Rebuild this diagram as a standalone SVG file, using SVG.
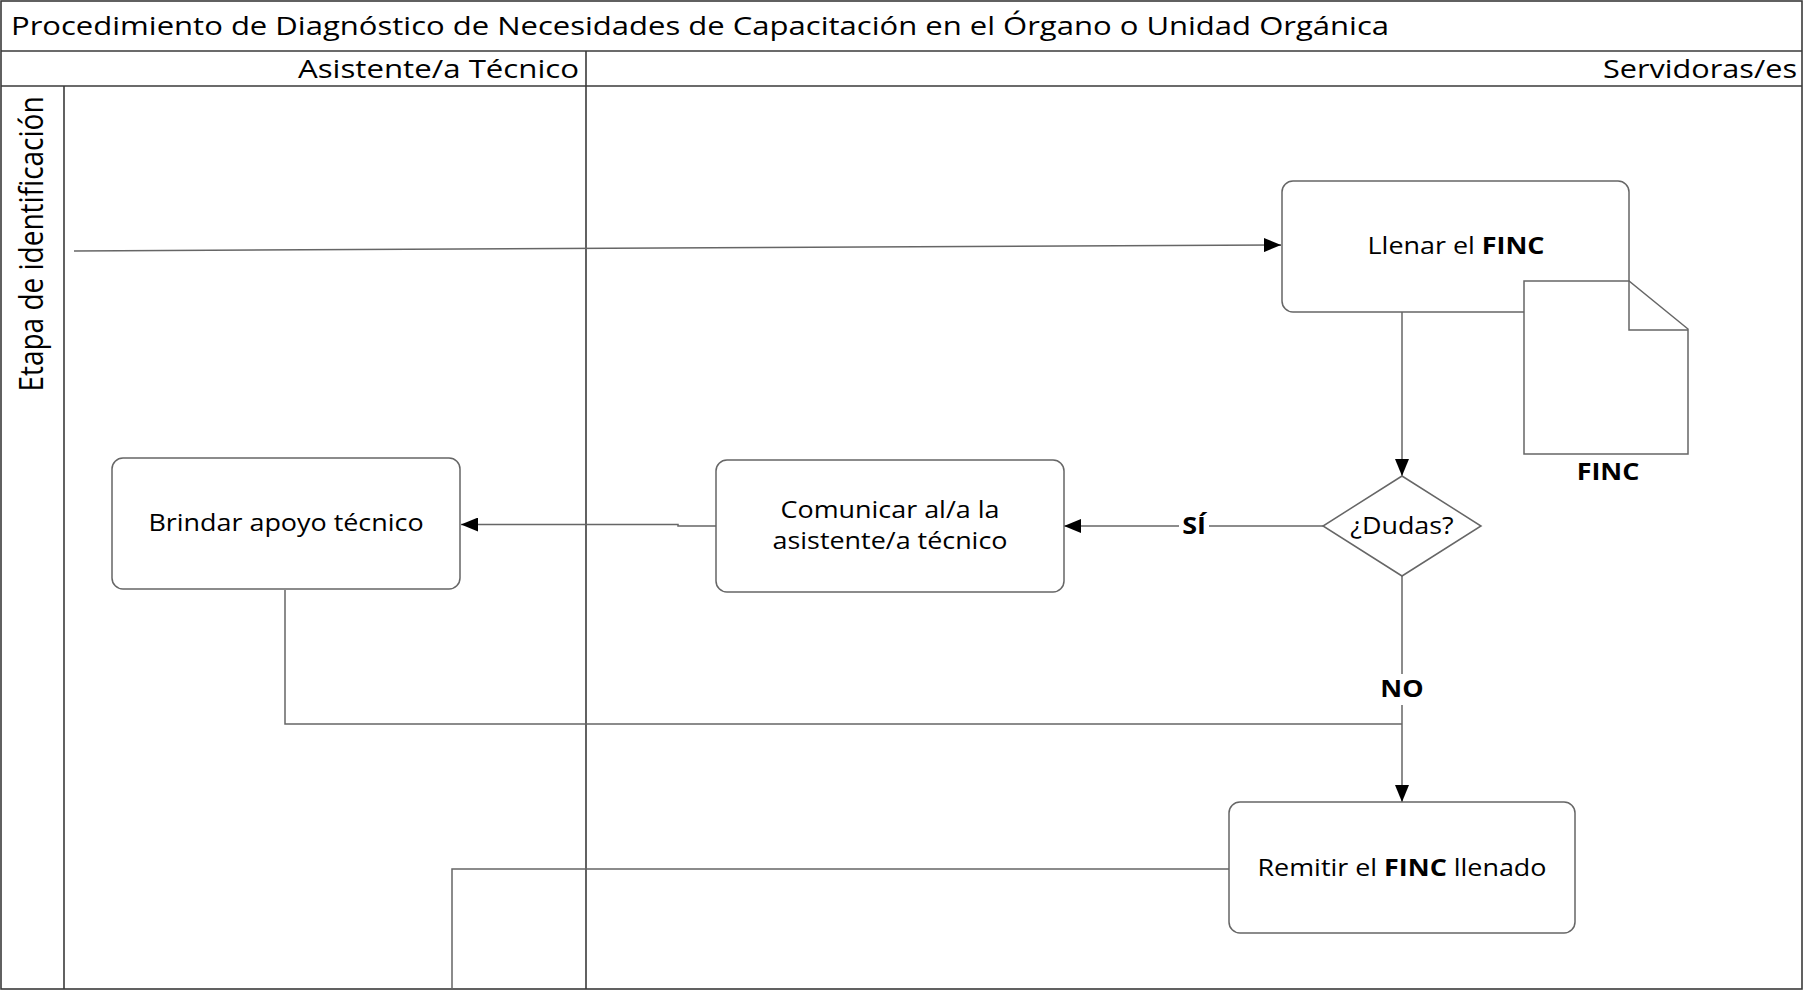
<svg xmlns="http://www.w3.org/2000/svg" width="1804" height="990" viewBox="0 0 1804 990">
  <style>
    .t{font-family:"Open Sans","Liberation Sans",sans-serif;fill:#000}
    .frame{fill:none;stroke:#3a3a3a;stroke-width:1.6}
    .shape{fill:#fff;stroke:#666;stroke-width:1.5}
    .conn{fill:none;stroke:#666;stroke-width:1.5}
    .lbl{fill:#fff;stroke:none}
  </style>
  <defs>
    <marker id="arrow" markerUnits="userSpaceOnUse" markerWidth="17" markerHeight="14" refX="17" refY="7" orient="auto">
      <path d="M0,0 L17,7 L0,14 Z" fill="#000"/>
    </marker>
  </defs>

  <!-- pool frame, title band and lane headers -->
  <g id="pool">
    <rect x="1" y="1" width="1801" height="988" fill="#fff" class="frame"/>
    <line x1="1" y1="51" x2="1802" y2="51" class="frame"/>
    <line x1="1" y1="86" x2="1802" y2="86" class="frame"/>
    <line x1="586" y1="51" x2="586" y2="989" class="frame"/>
    <line x1="64" y1="86" x2="64" y2="989" class="frame"/>
    <text class="t" x="11" y="35" font-size="25" textLength="1378" lengthAdjust="spacingAndGlyphs">Procedimiento de Diagnóstico de Necesidades de Capacitación en el Órgano o Unidad Orgánica</text>
    <text class="t" x="298" y="78" font-size="25" textLength="281" lengthAdjust="spacingAndGlyphs">Asistente/a Técnico</text>
    <text class="t" x="1603" y="78" font-size="25" textLength="194" lengthAdjust="spacingAndGlyphs">Servidoras/es</text>
    <text class="t" font-size="28" text-anchor="middle" transform="translate(43,244) rotate(-90) scale(1,1.18)">Etapa de identificación</text>
  </g>

  <!-- connectors -->
  <g id="connectors">
    <path class="conn" d="M74,251 L1281,245" marker-end="url(#arrow)"/>
    <path class="conn" d="M1402,312 V476" marker-end="url(#arrow)"/>
    <path class="conn" d="M1323,526 H1064" marker-end="url(#arrow)"/>
    <path class="conn" d="M716,526 H678 V524.5 H461" marker-end="url(#arrow)"/>
    <path class="conn" d="M285,590 V724 H1402"/>
    <path class="conn" d="M1402,576 V802" marker-end="url(#arrow)"/>
    <path class="conn" d="M1229,869 H452 V989"/>
    <rect class="lbl" x="1179" y="512" width="30" height="28"/>
    <text class="t" font-size="23" font-weight="bold" text-anchor="middle" transform="translate(1194,534) scale(1.17,1)">SÍ</text>
    <rect class="lbl" x="1380" y="674" width="44" height="31"/>
    <text class="t" font-size="23" font-weight="bold" text-anchor="middle" transform="translate(1402,697) scale(1.17,1)">NO</text>
  </g>

  <g id="llenar-finc">
    <rect class="shape" x="1282" y="181" width="347" height="131" rx="11"/>
    <text class="t" font-size="23" text-anchor="middle" transform="translate(1456,254) scale(1.17,1)">Llenar el <tspan font-weight="bold">FINC</tspan></text>
  </g>

  <g id="doc-finc">
    <path class="shape" d="M1524,281 H1629 L1688,329 V454 H1524 Z"/>
    <path class="conn" d="M1629,281 V330 H1688"/>
    <text class="t" font-size="23" font-weight="bold" text-anchor="middle" transform="translate(1608,480) scale(1.17,1)">FINC</text>
  </g>

  <g id="dudas">
    <path class="shape" d="M1402,476 L1481,526 L1402,576 L1323,526 Z"/>
    <text class="t" font-size="23" text-anchor="middle" transform="translate(1402,534) scale(1.17,1)">¿Dudas?</text>
  </g>

  <g id="comunicar">
    <rect class="shape" x="716" y="460" width="348" height="132" rx="11"/>
    <text class="t" font-size="23" text-anchor="middle" transform="translate(890,518) scale(1.17,1)">Comunicar al/a la</text>
    <text class="t" font-size="23" text-anchor="middle" transform="translate(890,549) scale(1.17,1)">asistente/a técnico</text>
  </g>

  <g id="brindar">
    <rect class="shape" x="112" y="458" width="348" height="131" rx="11"/>
    <text class="t" font-size="23" text-anchor="middle" transform="translate(286,531) scale(1.17,1)">Brindar apoyo técnico</text>
  </g>

  <g id="remitir">
    <rect class="shape" x="1229" y="802" width="346" height="131" rx="11"/>
    <text class="t" font-size="23" text-anchor="middle" transform="translate(1402,876) scale(1.17,1)">Remitir el <tspan font-weight="bold">FINC</tspan> llenado</text>
  </g>
</svg>
